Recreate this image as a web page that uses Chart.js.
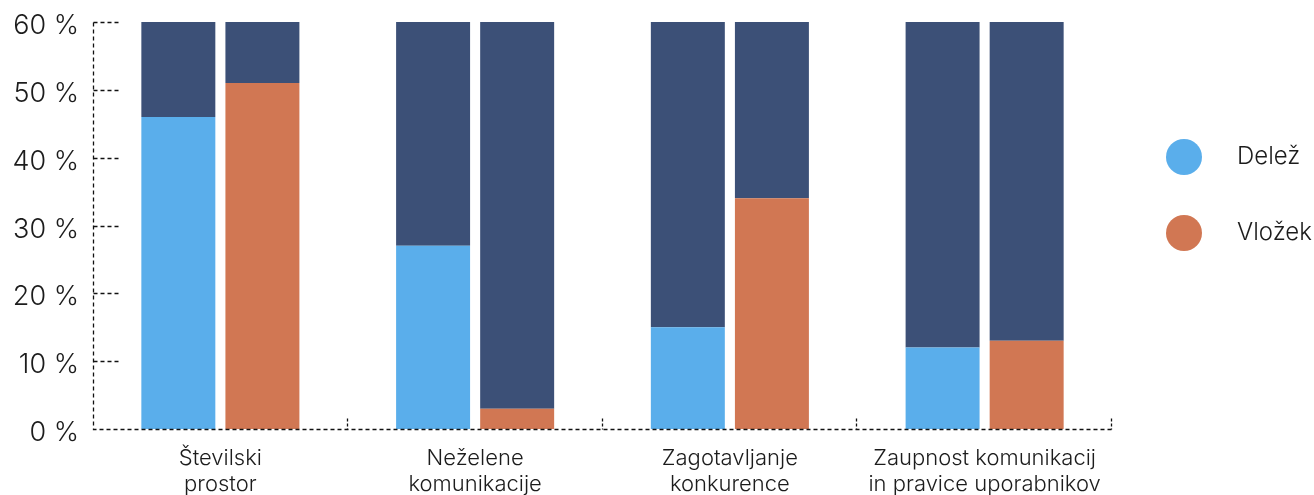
<!DOCTYPE html>
<html>
<head>
<meta charset="utf-8">
<script src="https://cdn.jsdelivr.net/npm/chart.js@4.4.1/dist/chart.umd.min.js"></script>
<style>
  html, body { margin: 0; padding: 0; background: #fff; }
  #wrap { width: 1314px; height: 495px; position: relative; }
</style>
</head>
<body>
<div id="wrap"><canvas id="shareChart"></canvas></div>
<script>
// kategorije in vrednosti (v %)
const categories = [
    ['Številski', 'prostor'],
    ['Neželene', 'komunikacije'],
    ['Zagotavljanje', 'konkurence'],
    ['Zaupnost komunikacij', 'in pravice uporabnikov']
];
const delez = [46, 27, 15, 12];
const vlozek = [51, 3, 34, 13];
const yMax = 60;
const yStep = 10;

const COL_DELEZ = '#5aaeeb';
const COL_VLOZEK = '#d17753';
const COL_REST = '#3c5077';
const INK = '#1c1c1c';
const FONT = "'Inter', 'Noto Sans', sans-serif";

// črtkane osi, kratke oznake + legenda s krogi
const axisMarks = {
    id: 'axisMarks',
    afterDraw(chart) {
        const { ctx, chartArea, scales } = chart;
        const x = scales.x, y = scales.y;
        const left = Math.round(chartArea.left) + 0.5;
        const bottom = Math.round(chartArea.bottom) + 0.5;
        ctx.save();
        ctx.strokeStyle = '#111';
        ctx.lineWidth = 1.3;
        ctx.setLineDash([4, 3]);
        // osi
        ctx.beginPath();
        ctx.moveTo(left, Math.round(chartArea.top) + 0.5);
        ctx.lineTo(left, bottom);
        ctx.lineTo(chartArea.right, bottom);
        ctx.stroke();
        // vodoravne oznake na y osi
        for (let v = yStep; v <= yMax; v += yStep) {
            const py = Math.round(y.getPixelForValue(v)) + 0.5;
            ctx.beginPath();
            ctx.moveTo(left, py);
            ctx.lineTo(left + 26, py);
            ctx.stroke();
        }
        // navpične oznake med kategorijami
        ctx.setLineDash([3, 2]);
        for (let i = 0; i < categories.length; i++) {
            const px = i < categories.length - 1
                ? (x.getPixelForValue(i) + x.getPixelForValue(i + 1)) / 2
                : chartArea.right;
            const xx = Math.round(px) - 0.5;
            ctx.beginPath();
            ctx.moveTo(xx, bottom - 11);
            ctx.lineTo(xx, bottom);
            ctx.stroke();
        }
        ctx.restore();

        // legenda
        const items = [
            { text: 'Delež', color: COL_DELEZ },
            { text: 'Vložek', color: COL_VLOZEK }
        ];
        ctx.save();
        ctx.font = '300 24px ' + FONT;
        ctx.textBaseline = 'middle';
        items.forEach((it, i) => {
            const cy = 157 + i * 76;
            ctx.fillStyle = it.color;
            ctx.beginPath();
            ctx.arc(1184, cy, 18, 0, Math.PI * 2);
            ctx.fill();
            ctx.fillStyle = INK;
            ctx.fillText(it.text, 1237, cy);
        });
        ctx.restore();
    }
};

const ctx = document.getElementById('shareChart');
new Chart(ctx, {
    type: 'bar',
    data: {
        labels: categories,
        datasets: [
            { label: 'Delež', data: delez, backgroundColor: COL_DELEZ, stack: 'd' },
            { label: 'Delež_rest', data: delez.map(v => yMax - v), backgroundColor: COL_REST, stack: 'd' },
            { label: 'Vložek', data: vlozek, backgroundColor: COL_VLOZEK, stack: 'v' },
            { label: 'Vložek_rest', data: vlozek.map(v => yMax - v), backgroundColor: COL_REST, stack: 'v' }
        ]
    },
    options: {
        responsive: true,
        maintainAspectRatio: false,
        animation: false,
        categoryPercentage: 0.66,
        barPercentage: 0.88,
        layout: { padding: { top: 22, right: 202, left: 0, bottom: 0 } },
        plugins: {
            legend: { display: false },
            tooltip: { enabled: false }
        },
        scales: {
            y: {
                stacked: true,
                min: 0,
                max: yMax,
                ticks: {
                    stepSize: yStep,
                    color: INK,
                    padding: 6,
                    labelOffset: 4,
                    font: { family: FONT, size: 27, weight: 300 },
                    callback: v => v + ' %'
                },
                grid: { display: false },
                border: { display: false },
                afterFit(scale) {
                    scale.width = 93;
                    scale.paddingTop = 0;
                    scale.paddingBottom = 0;
                }
            },
            x: {
                stacked: true,
                ticks: {
                    color: INK,
                    padding: 8,
                    maxRotation: 0,
                    font: { family: FONT, size: 22, weight: 300, lineHeight: 1.2 }
                },
                grid: { display: false },
                border: { display: false },
                afterFit(scale) { scale.height = 66; }
            }
        }
    },
    plugins: [axisMarks]
});
</script>
</body>
</html>
